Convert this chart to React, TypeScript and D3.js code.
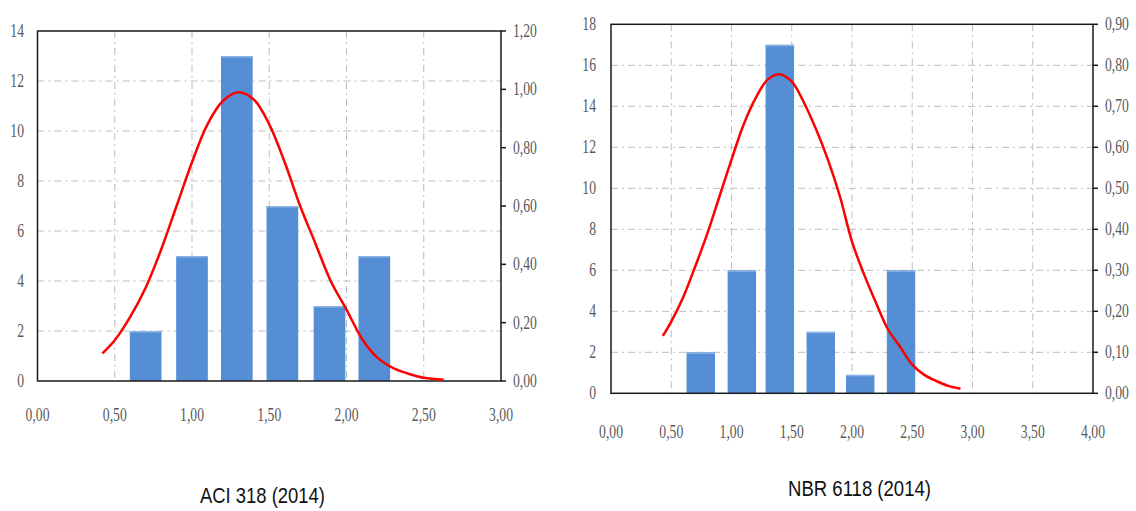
import React, { useEffect, useRef } from "react";
import * as d3 from "d3";

// ACI 318 (2014) histogram + fitted curve
const aciBins = [0.7, 1.0, 1.29, 1.585, 1.89, 2.18];
const aciCounts = [2, 5, 13, 7, 3, 5];
const aciCurveX = [0.42, 0.5, 0.6, 0.7, 0.8, 0.9, 1.0, 1.1, 1.2, 1.3, 1.4, 1.5, 1.6, 1.7, 1.8, 1.9, 2.0, 2.1, 2.2, 2.3, 2.4, 2.5, 2.63];
const aciCurveY = [0.095, 0.14, 0.22, 0.32, 0.45, 0.6, 0.75, 0.88, 0.96, 0.99, 0.965, 0.88, 0.75, 0.6, 0.47, 0.34, 0.245, 0.145, 0.08, 0.045, 0.025, 0.011, 0.004];
const aciXTicks = [0, 0.5, 1, 1.5, 2, 2.5, 3];
const aciYTicks = [0, 2, 4, 6, 8, 10, 12, 14];
const aciY2Ticks = [0, 0.2, 0.4, 0.6, 0.8, 1.0, 1.2];

// NBR 6118 (2014)
const nbrBins = [0.745, 1.086, 1.401, 1.741, 2.068, 2.407];
const nbrCounts = [2, 6, 17, 3, 0.9, 6];
const nbrCurveX = [0.43, 0.5, 0.6, 0.7, 0.8, 0.9, 1.0, 1.1, 1.2, 1.3, 1.4, 1.5, 1.6, 1.7, 1.8, 1.9, 2.0, 2.1, 2.2, 2.3, 2.4, 2.5, 2.6, 2.7, 2.8, 2.9];
const nbrCurveY = [0.14, 0.175, 0.235, 0.31, 0.39, 0.48, 0.57, 0.655, 0.72, 0.765, 0.778, 0.76, 0.71, 0.645, 0.57, 0.48, 0.37, 0.29, 0.22, 0.155, 0.113, 0.07, 0.045, 0.03, 0.018, 0.011];
const nbrXTicks = [0, 0.5, 1, 1.5, 2, 2.5, 3, 3.5, 4];
const nbrYTicks = [0, 2, 4, 6, 8, 10, 12, 14, 16, 18];
const nbrY2Ticks = [0, 0.1, 0.2, 0.3, 0.4, 0.5, 0.6, 0.7, 0.8, 0.9];

const fmt = (v: number) => v.toFixed(2).replace(".", ",");

type Cfg = {
  left: number; right: number; top: number; bottom: number;
  xTicks: number[]; yTicks: number[]; y2Ticks: number[];
  bins: number[]; counts: number[]; cx: number[]; cy: number[];
  barW: number; title: string; titleX: number; titleY: number; titleLen: number;
  xLabelDy: number; yLabelGap: number;
};

function drawChart(svg: d3.Selection<SVGSVGElement, unknown, null, undefined>, c: Cfg) {
  const x = d3.scaleLinear().domain([0, d3.max(c.xTicks)!]).range([c.left, c.right]);
  const y = d3.scaleLinear().domain([0, d3.max(c.yTicks)!]).range([c.bottom, c.top]);
  const y2 = d3.scaleLinear().domain([0, d3.max(c.y2Ticks)!]).range([c.bottom, c.top]);
  const g = svg.append("g");

  // grid
  g.selectAll(".vg").data(c.xTicks.slice(1, -1)).enter().append("line")
    .attr("x1", d => x(d)).attr("x2", d => x(d)).attr("y1", c.top).attr("y2", c.bottom)
    .attr("stroke", "#bdbdbd").attr("stroke-dasharray", "7,4,2,4");
  g.selectAll(".hg").data(c.yTicks.slice(1, -1)).enter().append("line")
    .attr("y1", d => y(d)).attr("y2", d => y(d)).attr("x1", c.left).attr("x2", c.right)
    .attr("stroke", "#bdbdbd").attr("stroke-dasharray", "7,4,2,4");

  // bars
  const bw = x(c.barW) - x(0);
  g.selectAll(".bar").data(c.bins).enter().append("rect")
    .attr("x", d => x(d) - bw / 2).attr("width", bw)
    .attr("y", (d, i) => y(c.counts[i])).attr("height", (d, i) => c.bottom - y(c.counts[i]))
    .attr("fill", "#558ed5");
  g.selectAll(".bartop").data(c.bins).enter().append("rect")
    .attr("x", d => x(d) - bw / 2).attr("width", bw)
    .attr("y", (d, i) => y(c.counts[i])).attr("height", 1.5)
    .attr("fill", "#8db3e2");

  // frame
  g.append("rect").attr("x", c.left).attr("y", c.top)
    .attr("width", c.right - c.left).attr("height", c.bottom - c.top)
    .attr("fill", "none").attr("stroke", "#1a1a1a").attr("stroke-width", 1.5);
  g.selectAll(".rt").data(c.y2Ticks).enter().append("line")
    .attr("x1", c.right).attr("x2", c.right + 5).attr("y1", d => y2(d)).attr("y2", d => y2(d))
    .attr("stroke", "#1a1a1a").attr("stroke-width", 1.5);

  // curve
  const pts: [number, number][] = c.cx.map((v, i) => [v, c.cy[i]]);
  g.append("path").datum(pts)
    .attr("d", d3.line<[number, number]>().x(d => x(d[0])).y(d => y2(d[1])).curve(d3.curveCatmullRom)(pts)!)
    .attr("fill", "none").attr("stroke", "#ff0000").attr("stroke-width", 2.5);

  const label = (tx: number, ty: number, s: string, anchor: string) => {
    g.append("text")
      .attr("transform", `translate(${tx},${ty}) scale(0.76,1)`)
      .attr("text-anchor", anchor)
      .attr("font-family", "Liberation Serif")
      .attr("font-size", 18).attr("fill", "#595959").text(s);
  };
  c.yTicks.forEach(t => label(c.left - c.yLabelGap, y(t) + 6, String(t), "end"));
  c.y2Ticks.forEach(t => label(c.right + 12, y2(t) + 6, fmt(t), "start"));
  c.xTicks.forEach(t => label(x(t), c.bottom + c.xLabelDy, fmt(t), "middle"));

  g.append("text").attr("x", c.titleX).attr("y", c.titleY)
    .attr("text-anchor", "middle").attr("font-family", "Liberation Sans")
    .attr("font-size", 22).attr("fill", "#111")
    .attr("textLength", c.titleLen).attr("lengthAdjust", "spacingAndGlyphs")
    .text(c.title);
}

export default function App() {
  const ref = useRef<SVGSVGElement>(null);
  useEffect(() => {
    const svg = d3.select(ref.current!);
    svg.selectAll("*").remove();
    drawChart(svg, {
      left: 37.5, right: 501, top: 31, bottom: 381,
      xTicks: aciXTicks, yTicks: aciYTicks, y2Ticks: aciY2Ticks,
      bins: aciBins, counts: aciCounts, cx: aciCurveX, cy: aciCurveY,
      barW: 0.205, title: "ACI 318 (2014)", titleX: 262.5, titleY: 503, titleLen: 125,
      xLabelDy: 40, yLabelGap: 13.5,
    });
    drawChart(svg, {
      left: 611, right: 1093, top: 24.3, bottom: 393.3,
      xTicks: nbrXTicks, yTicks: nbrYTicks, y2Ticks: nbrY2Ticks,
      bins: nbrBins, counts: nbrCounts, cx: nbrCurveX, cy: nbrCurveY,
      barW: 0.236, title: "NBR 6118 (2014)", titleX: 859.5, titleY: 496, titleLen: 143,
      xLabelDy: 45, yLabelGap: 15,
    });
  }, []);
  return (
    <svg ref={ref} width={1136} height={511}
      style={{ position: "absolute", left: 0, top: 0, background: "#fff" }} />
  );
}
